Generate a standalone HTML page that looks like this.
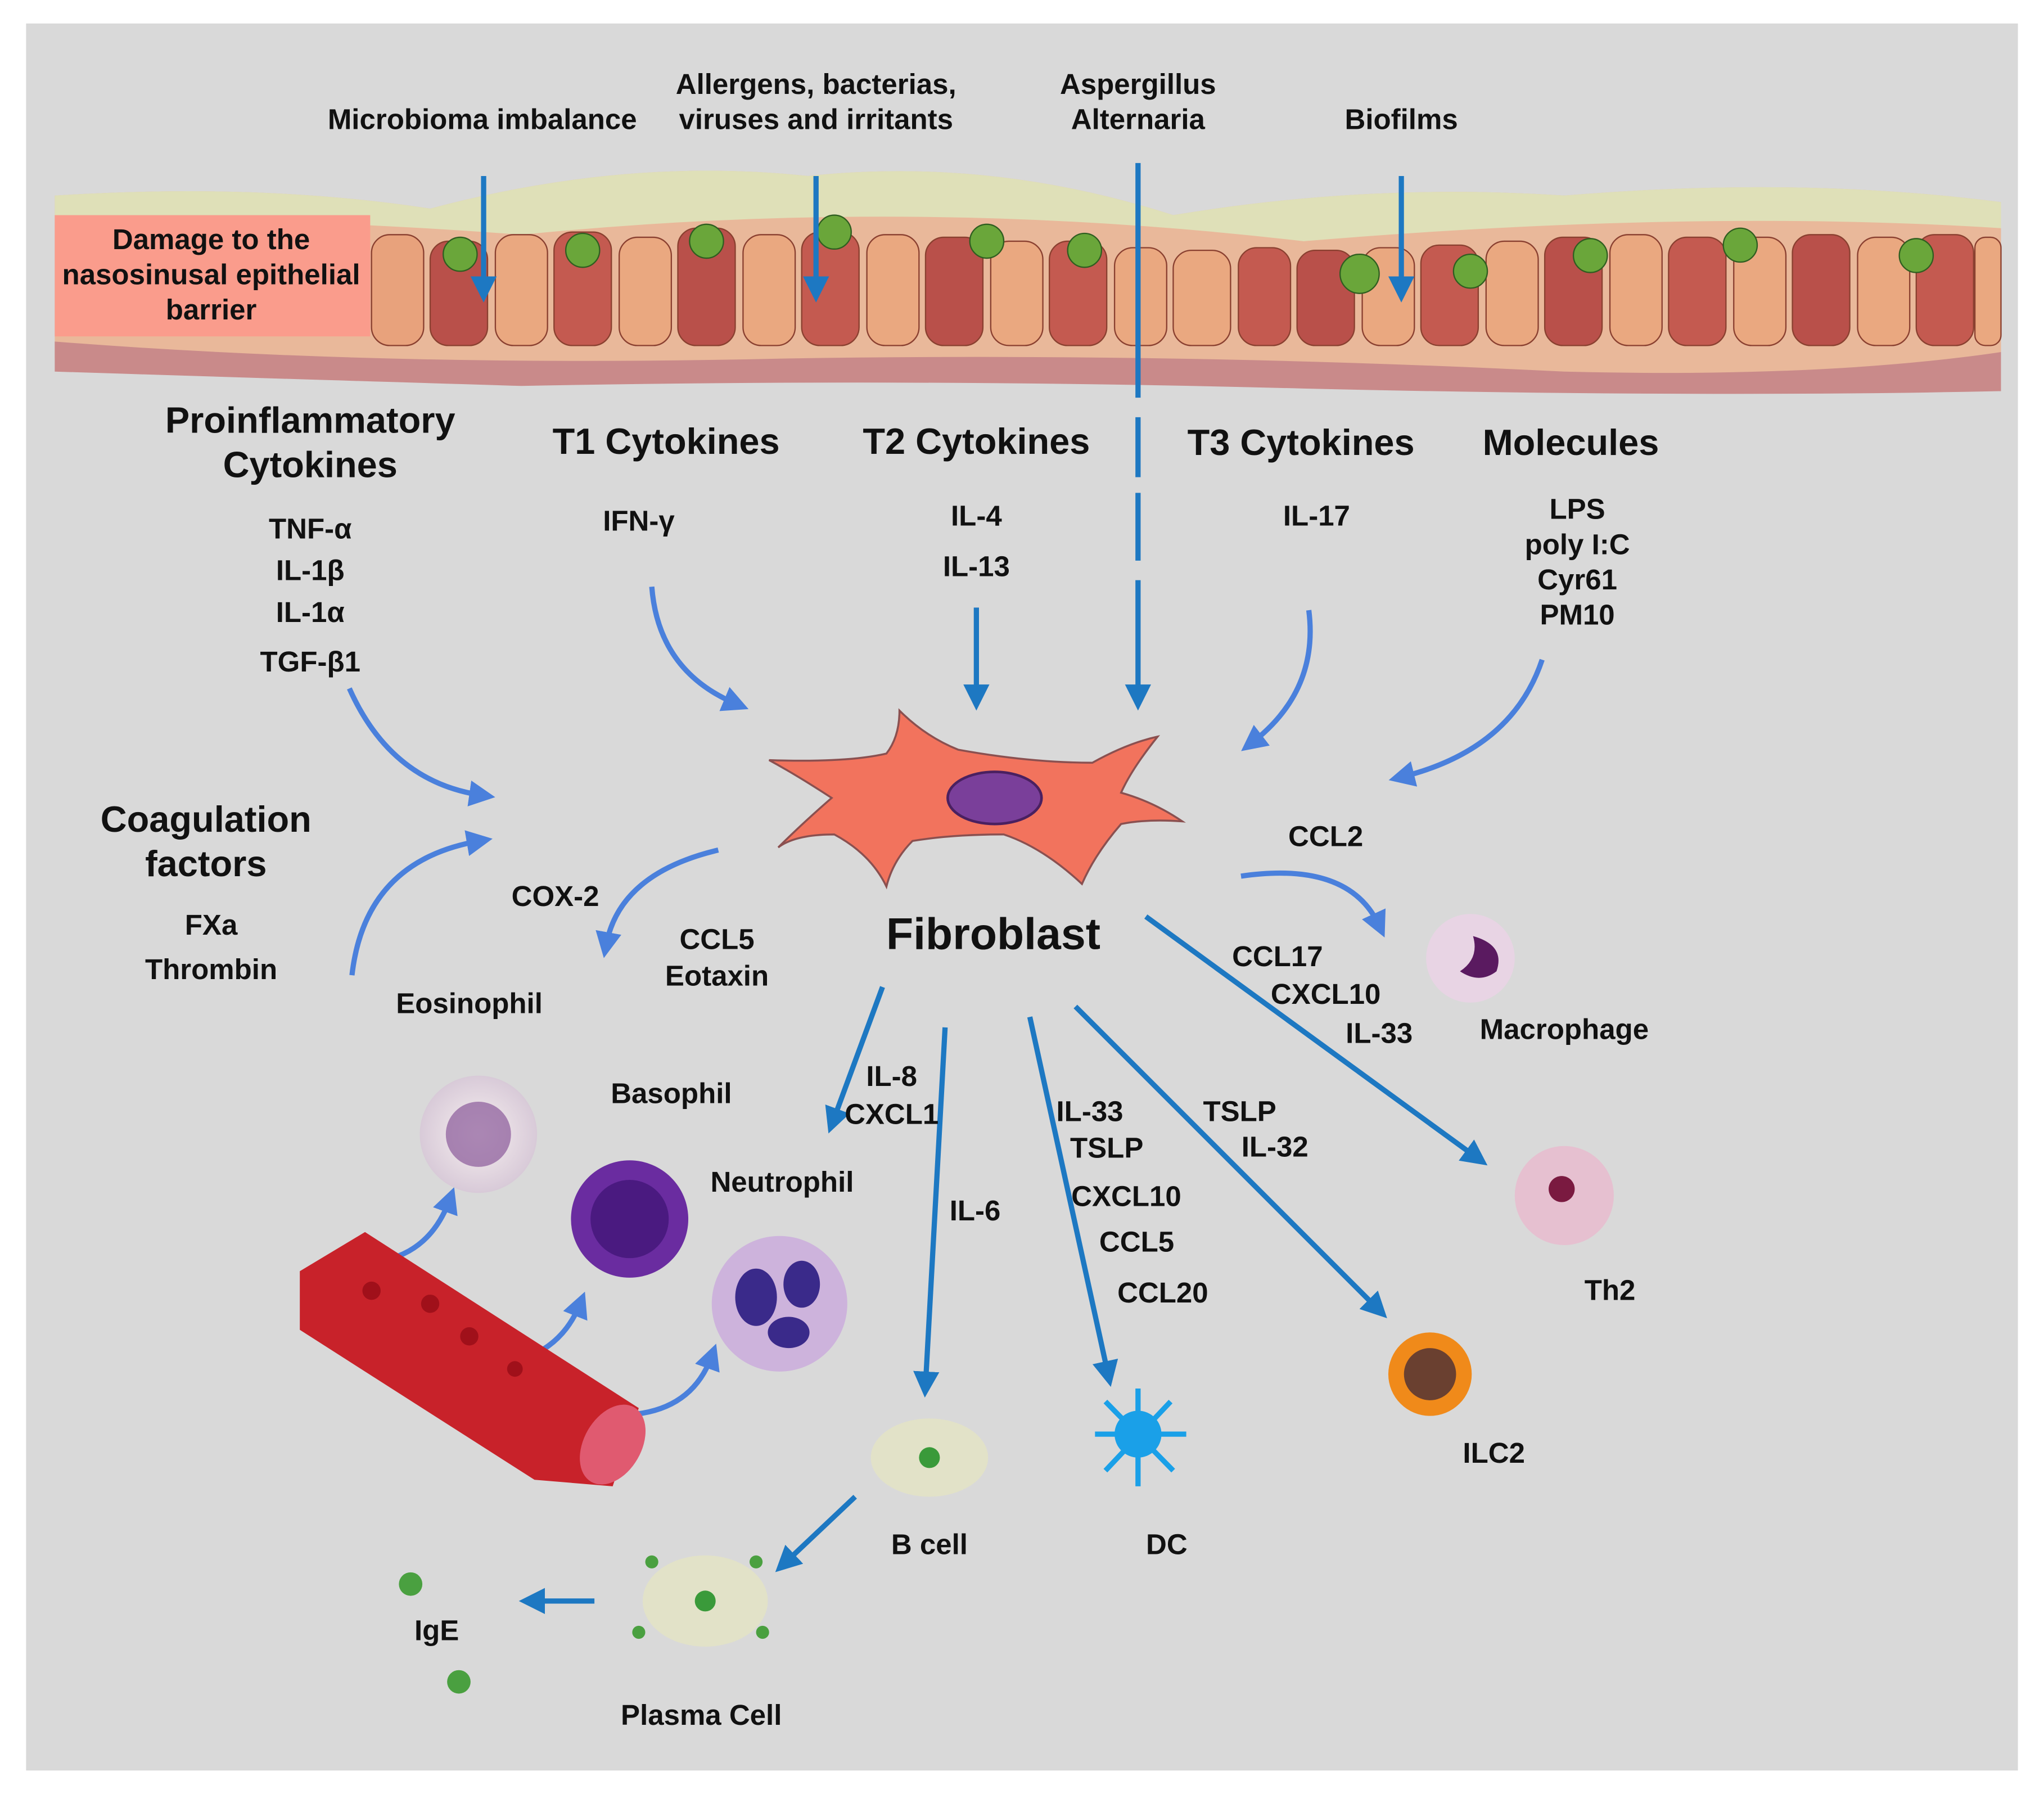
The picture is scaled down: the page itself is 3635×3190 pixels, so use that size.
<!DOCTYPE html>
<html><head><meta charset="utf-8"><style>
html,body{margin:0;padding:0;background:#fff;}
svg{display:block}
text{font-family:"Liberation Sans Narrow","Liberation Sans",sans-serif;font-weight:bold;fill:#111;text-anchor:middle}
</style></head><body>
<svg width="3635" height="3190" viewBox="0 0 1568 1376" xmlns="http://www.w3.org/2000/svg">
<defs>
<marker id="ab" markerWidth="5" markerHeight="5" refX="2.5" refY="2.5" orient="auto" markerUnits="strokeWidth"><path d="M0,0 L5,2.5 L0,5 z" fill="#1d78c2"/></marker>
<marker id="al" markerWidth="5" markerHeight="5" refX="2.5" refY="2.5" orient="auto" markerUnits="strokeWidth"><path d="M0,0 L5,2.5 L0,5 z" fill="#4a80dc"/></marker>
<radialGradient id="cellg" cx="50%" cy="50%" r="50%"><stop offset="0" stop-color="#f7f0f0"/><stop offset="1" stop-color="#d8cad8"/></radialGradient>
</defs>
<rect x="0" y="0" width="1568" height="1376" fill="#fff"/>
<rect x="20" y="18" width="1528" height="1340" fill="#d9d9d9"/>

<!-- epithelium -->
<path d="M42,150 Q200,140 330,160 Q480,120 620,135 Q760,120 900,165 Q1050,140 1200,150 Q1380,135 1535,155 L1535,290 Q1300,300 1000,292 Q700,282 400,290 Q200,282 42,275 Z" fill="#e9b89a"/>
<g>
<path d="M42,150 Q200,140 330,160 Q480,120 620,135 Q760,120 900,165 Q1050,140 1200,150 Q1380,135 1535,155 L1535,175 Q1300,160 1000,185 Q700,150 400,180 Q200,165 42,170Z" fill="#dfe0b8"/>
</g>
<g stroke="#8a4030" stroke-width="1">
<rect x="285" y="180" width="40" height="85" rx="14" fill="#e8a27c"/>
<rect x="330" y="185" width="44" height="80" rx="14" fill="#b9504a"/>
<rect x="380" y="180" width="40" height="85" rx="14" fill="#eaa880"/>
<rect x="425" y="178" width="44" height="87" rx="14" fill="#c45a50"/>
<rect x="475" y="182" width="40" height="83" rx="14" fill="#eaa880"/>
<rect x="520" y="175" width="44" height="90" rx="14" fill="#b9504a"/>
<rect x="570" y="180" width="40" height="85" rx="14" fill="#eaa880"/>
<rect x="615" y="178" width="44" height="87" rx="14" fill="#c45a50"/>
<rect x="665" y="180" width="40" height="85" rx="14" fill="#eaa880"/>
<rect x="710" y="182" width="44" height="83" rx="14" fill="#b9504a"/>
<rect x="760" y="185" width="40" height="80" rx="14" fill="#eaa880"/>
<rect x="805" y="185" width="44" height="80" rx="14" fill="#c45a50"/>
<rect x="855" y="190" width="40" height="75" rx="14" fill="#eaa880"/>
<rect x="900" y="192" width="44" height="73" rx="14" fill="#eaa880"/>
<rect x="950" y="190" width="40" height="75" rx="14" fill="#c45a50"/>
<rect x="995" y="192" width="44" height="73" rx="14" fill="#b9504a"/>
<rect x="1045" y="190" width="40" height="75" rx="14" fill="#eaa880"/>
<rect x="1090" y="188" width="44" height="77" rx="14" fill="#c45a50"/>
<rect x="1140" y="185" width="40" height="80" rx="14" fill="#eaa880"/>
<rect x="1185" y="182" width="44" height="83" rx="14" fill="#b9504a"/>
<rect x="1235" y="180" width="40" height="85" rx="14" fill="#eaa880"/>
<rect x="1280" y="182" width="44" height="83" rx="14" fill="#c45a50"/>
<rect x="1330" y="182" width="40" height="83" rx="14" fill="#eaa880"/>
<rect x="1375" y="180" width="44" height="85" rx="14" fill="#b9504a"/>
<rect x="1425" y="182" width="40" height="83" rx="14" fill="#eaa880"/>
<rect x="1470" y="180" width="44" height="85" rx="14" fill="#c45a50"/>
<rect x="1515" y="182" width="20" height="83" rx="8" fill="#eaa880"/>
</g>
<g fill="#6aa63a" stroke="#2f5e20" stroke-width="1">
<circle cx="353" cy="195" r="13"/><circle cx="447" cy="192" r="13"/><circle cx="542" cy="185" r="13"/>
<circle cx="640" cy="178" r="13"/><circle cx="757" cy="185" r="13"/><circle cx="832" cy="192" r="13"/>
<circle cx="1043" cy="210" r="15"/><circle cx="1128" cy="208" r="13"/><circle cx="1220" cy="196" r="13"/>
<circle cx="1335" cy="188" r="13"/><circle cx="1470" cy="196" r="13"/>
</g>
<path d="M42,262 Q300,282 600,275 Q900,270 1200,285 Q1400,290 1535,270 L1535,300 Q1300,305 1000,298 Q700,290 400,296 Q200,290 42,285 Z" fill="#c98a8a"/>

<rect x="42" y="165" width="242" height="93" fill="#fa9c8c"/>
<text x="162" y="191" font-size="22">Damage to the</text>
<text x="162" y="218" font-size="22">nasosinusal epithelial</text>
<text x="162" y="245" font-size="22">barrier</text>

<g font-size="22">
<text x="370" y="99">Microbioma imbalance</text>
<text x="626" y="72">Allergens, bacterias,</text>
<text x="626" y="99">viruses and irritants</text>
<text x="873" y="72">Aspergillus</text>
<text x="873" y="99">Alternaria</text>
<text x="1075" y="99">Biofilms</text>
</g>

<g stroke="#1d78c2" stroke-width="4" fill="none">
<line x1="371" y1="135" x2="371" y2="222" marker-end="url(#ab)"/>
<line x1="626" y1="135" x2="626" y2="222" marker-end="url(#ab)"/>
<line x1="1075" y1="135" x2="1075" y2="222" marker-end="url(#ab)"/>
<path d="M873,125 V305 M873,320 V366 M873,378 V430 M873,445 V535" marker-end="url(#ab)"/>
<line x1="749" y1="466" x2="749" y2="535" marker-end="url(#ab)"/>
<line x1="879" y1="703" x2="1133" y2="888" marker-end="url(#ab)"/>
<line x1="677" y1="757" x2="639" y2="860" marker-end="url(#ab)"/>
<line x1="725" y1="788" x2="710" y2="1062" marker-end="url(#ab)"/>
<line x1="790" y1="780" x2="850" y2="1054" marker-end="url(#ab)"/>
<line x1="825" y1="772" x2="1057" y2="1004" marker-end="url(#ab)"/>
<line x1="656" y1="1148" x2="602" y2="1199" marker-end="url(#ab)"/>
<line x1="456" y1="1228" x2="408" y2="1228" marker-end="url(#ab)"/>
</g>
<g stroke="#4a80dc" stroke-width="4" fill="none">
<path d="M500,450 Q505,515 565,540" marker-end="url(#al)"/>
<path d="M1004,468 Q1012,530 960,570" marker-end="url(#al)"/>
<path d="M1183,506 Q1160,575 1075,596" marker-end="url(#al)"/>
<path d="M268,528 Q300,600 370,610" marker-end="url(#al)"/>
<path d="M270,748 Q280,660 368,645" marker-end="url(#al)"/>
<path d="M551,652 Q475,670 465,725" marker-end="url(#al)"/>
<path d="M952,672 Q1035,660 1058,710" marker-end="url(#al)"/>
<path d="M260,968 Q325,975 345,920" marker-end="url(#al)"/>
<path d="M358,1048 Q425,1050 445,1000" marker-end="url(#al)"/>
<path d="M462,1085 Q528,1090 546,1040" marker-end="url(#al)"/>
</g>

<!-- fibroblast -->
<path d="M590,583 Q650,585 680,578 Q690,565 690,545 Q710,565 735,575 Q790,585 838,585 Q865,570 888,565 Q868,590 860,608 Q885,615 907,630 Q880,628 860,632 Q840,655 830,678 Q800,650 770,640 Q730,640 700,645 Q685,660 680,680 Q668,655 640,640 Q610,640 597,650 Q615,632 638,612 Q612,595 590,583Z" fill="#f2735d" stroke="#8a5050" stroke-width="1.5"/>
<ellipse cx="763" cy="612" rx="36" ry="20" fill="#7a3f9a" stroke="#4a2060" stroke-width="2"/>

<g font-size="28">
<text x="238" y="332">Proinflammatory</text>
<text x="238" y="366">Cytokines</text>
<text x="511" y="348">T1 Cytokines</text>
<text x="749" y="348">T2 Cytokines</text>
<text x="998" y="349">T3 Cytokines</text>
<text x="1205" y="349">Molecules</text>
<text x="158" y="638">Coagulation</text>
<text x="158" y="672">factors</text>
</g>
<text x="762" y="728" font-size="34">Fibroblast</text>
<g font-size="22">
<text x="238" y="413">TNF-α</text><text x="238" y="445">IL-1β</text><text x="238" y="477">IL-1α</text><text x="238" y="515">TGF-β1</text>
<text x="490" y="407">IFN-γ</text>
<text x="749" y="403">IL-4</text><text x="749" y="442">IL-13</text>
<text x="1010" y="403">IL-17</text>
<text x="1210" y="398">LPS</text><text x="1210" y="425">poly I:C</text><text x="1210" y="452">Cyr61</text><text x="1210" y="479">PM10</text>
<text x="162" y="717">FXa</text><text x="162" y="751">Thrombin</text>
<text x="426" y="695">COX-2</text><text x="360" y="777">Eosinophil</text>
<text x="550" y="728">CCL5</text><text x="550" y="756">Eotaxin</text>
<text x="1017" y="649">CCL2</text>
<text x="980" y="741">CCL17</text><text x="1017" y="770">CXCL10</text><text x="1058" y="800">IL-33</text>
<text x="1200" y="797">Macrophage</text>
<text x="515" y="846">Basophil</text><text x="600" y="914">Neutrophil</text>
<text x="684" y="833">IL-8</text><text x="684" y="862">CXCL1</text><text x="748" y="936">IL-6</text>
<text x="836" y="860">IL-33</text><text x="849" y="888">TSLP</text><text x="864" y="925">CXCL10</text><text x="872" y="960">CCL5</text><text x="892" y="999">CCL20</text>
<text x="951" y="860">TSLP</text><text x="978" y="887">IL-32</text>
<text x="1235" y="997">Th2</text><text x="1146" y="1122">ILC2</text><text x="895" y="1192">DC</text><text x="713" y="1192">B cell</text>
<text x="335" y="1258">IgE</text><text x="538" y="1323">Plasma Cell</text>
</g>

<!-- cells -->
<circle cx="367" cy="870" r="45" fill="url(#cellg)"/>
<circle cx="367" cy="870" r="25" fill="#8a5a9a" opacity="0.7"/>
<circle cx="483" cy="935" r="45" fill="#6a2ca0"/>
<circle cx="483" cy="935" r="30" fill="#4a1a80"/>
<circle cx="598" cy="1000" r="52" fill="#cdb3dc"/>
<ellipse cx="580" cy="995" rx="16" ry="22" fill="#3a2a8a"/><ellipse cx="615" cy="985" rx="14" ry="18" fill="#3a2a8a"/><ellipse cx="605" cy="1022" rx="16" ry="12" fill="#3a2a8a"/>
<circle cx="1128" cy="735" r="34" fill="#e8d4e4"/>
<path d="M1130,718 Q1155,725 1148,745 Q1135,755 1120,745 Q1135,735 1130,718Z" fill="#5a1a60"/>
<circle cx="1200" cy="917" r="38" fill="#e6c0d0"/>
<circle cx="1198" cy="912" r="10" fill="#7a1a40"/>
<circle cx="1097" cy="1054" r="32" fill="#f08a1a"/>
<circle cx="1097" cy="1054" r="20" fill="#6a4030"/>
<g stroke="#1aa0e8" stroke-width="4"><line x1="840" y1="1100" x2="910" y2="1100"/><line x1="873" y1="1065" x2="873" y2="1140"/><line x1="848" y1="1075" x2="900" y2="1128"/><line x1="898" y1="1075" x2="848" y2="1128"/></g>
<circle cx="873" cy="1100" r="18" fill="#1aa0e8"/>
<ellipse cx="713" cy="1118" rx="45" ry="30" fill="#e2e2c8"/>
<circle cx="713" cy="1118" r="8" fill="#3a9a3a"/>
<ellipse cx="541" cy="1228" rx="48" ry="35" fill="#e2e2c8"/>
<circle cx="541" cy="1228" r="8" fill="#3a9a3a"/>
<g fill="#4aa040"><circle cx="315" cy="1215" r="9"/><circle cx="352" cy="1290" r="9"/><circle cx="500" cy="1198" r="5"/><circle cx="580" cy="1198" r="5"/><circle cx="490" cy="1252" r="5"/><circle cx="585" cy="1252" r="5"/></g>
<!-- blood vessel -->
<path d="M230,975 L280,945 L490,1080 L470,1140 L410,1135 L230,1020 Z" fill="#c8222a"/>
<ellipse cx="470" cy="1108" rx="22" ry="33" transform="rotate(30 470 1108)" fill="#e05a70"/>
<g fill="#a0101a"><circle cx="285" cy="990" r="7"/><circle cx="330" cy="1000" r="7"/><circle cx="360" cy="1025" r="7"/><circle cx="395" cy="1050" r="6"/></g>
</svg>
</body></html>
